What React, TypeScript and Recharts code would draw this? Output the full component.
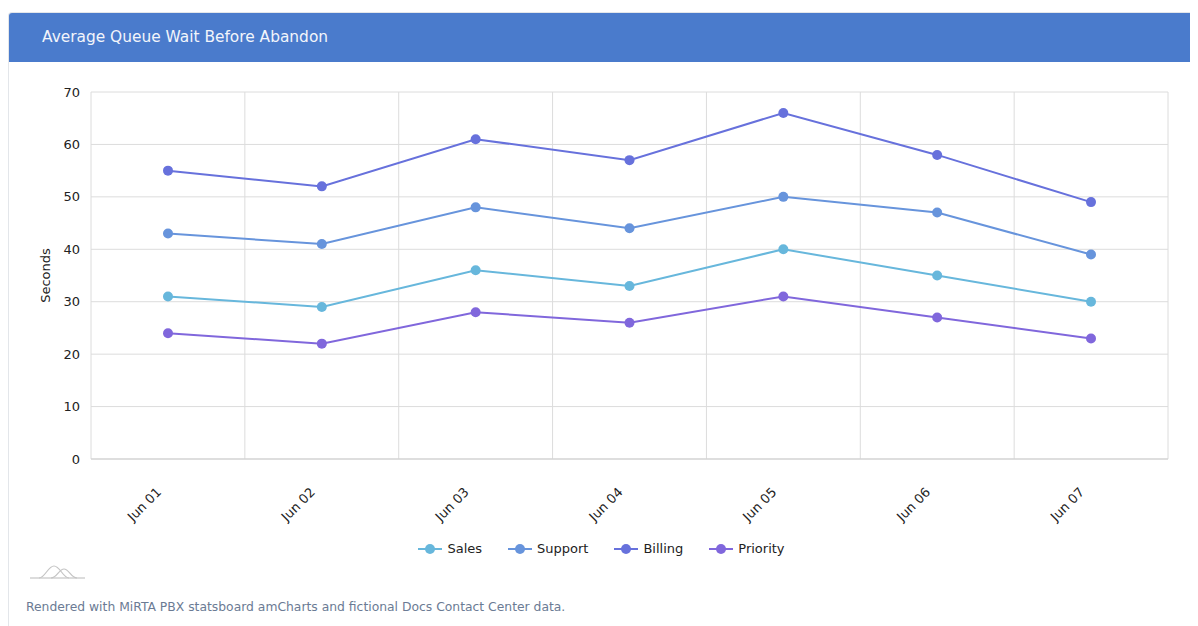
import React from 'react';
import {
  LineChart,
  Line,
  XAxis,
  YAxis,
  CartesianGrid,
  Legend
} from 'recharts';

const days = ['Jun 01', 'Jun 02', 'Jun 03', 'Jun 04', 'Jun 05', 'Jun 06', 'Jun 07'];
const sales = [31, 29, 36, 33, 40, 35, 30];
const support = [43, 41, 48, 44, 50, 47, 39];
const billing = [55, 52, 61, 57, 66, 58, 49];
const priority = [24, 22, 28, 26, 31, 27, 23];
const yTicks = [0, 10, 20, 30, 40, 50, 60, 70];

const seriesDefs = [
  { key: 'Sales', color: '#67b7dc' },
  { key: 'Support', color: '#6794dc' },
  { key: 'Billing', color: '#6771dc' },
  { key: 'Priority', color: '#8067dc' }
];

const data = days.map((day, i) => ({
  day,
  Sales: sales[i],
  Support: support[i],
  Billing: billing[i],
  Priority: priority[i]
}));

const FONT = '"DejaVu Sans", sans-serif';
// half of one category band, so points sit in the middle of each cell
const HALF_BAND = 77;

function DayTick(props: any) {
  const { x, y, payload } = props;
  const ax = x - 6;
  const ay = y + 26;
  return (
    <text
      x={ax}
      y={ay}
      transform={`rotate(-45, ${ax}, ${ay})`}
      textAnchor="end"
      fontSize={13}
      fill="#222"
      fontFamily={FONT}
    >
      {payload.value}
    </text>
  );
}

function LegendContent() {
  return (
    <div style={{ display: 'flex', justifyContent: 'center', paddingLeft: 26, paddingTop: 7, fontFamily: FONT, fontSize: 13, color: '#222' }}>
      {seriesDefs.map((s, i) => (
        <div key={s.key} style={{ display: 'flex', alignItems: 'center', marginLeft: i === 0 ? 0 : 26 }}>
          <svg width={24} height={12} style={{ marginRight: 5 }}>
            <line x1={0} y1={6} x2={24} y2={6} stroke={s.color} strokeWidth={2} />
            <circle cx={12} cy={6} r={5} fill={s.color} />
          </svg>
          <span>{s.key}</span>
        </div>
      ))}
    </div>
  );
}

function AmLogo() {
  return (
    <svg width={60} height={16} style={{ position: 'absolute', left: 21, top: 551 }}>
      <line x1={0} y1={14} x2={55} y2={14} stroke="#d0d0d0" strokeWidth={1.3} />
      <path d="M9,14 C15,14 18,2 24,2 C30,2 33,14 39,14" fill="none" stroke="#c4c4c4" strokeWidth={1.2} />
      <path d="M21,14 C27,14 29,5 34,5 C39,5 41,14 47,14" fill="none" stroke="#c4c4c4" strokeWidth={1.2} />
    </svg>
  );
}

export default function App() {
  return (
    <div style={{ position: 'relative', marginTop: 4, width: 1190, border: '1px solid #e3e6ea', borderRight: 'none', borderTopLeftRadius: 4, background: '#fff', fontFamily: FONT }}>
      <div style={{ height: 49, background: '#4a7bcc', color: '#f2f5fb', fontSize: 15.4, lineHeight: '48px', paddingLeft: 33, borderTopLeftRadius: 3 }}>
        Average Queue Wait Before Abandon
      </div>
      <LineChart width={1189} height={507} data={data} margin={{ top: 30, right: 30, left: 0, bottom: 0 }}>
        <CartesianGrid
          stroke="#dcdcdc"
          verticalCoordinatesGenerator={({ offset }: any) =>
            days.map((_, i) => offset.left + (i * offset.width) / days.length).concat(offset.left + offset.width)
          }
        />
        <XAxis
          dataKey="day"
          interval={0}
          height={75}
          padding={{ left: HALF_BAND, right: HALF_BAND }}
          tickLine={false}
          axisLine={{ stroke: '#cfcfcf' }}
          tick={<DayTick />}
        />
        <YAxis
          width={82}
          domain={[0, 70]}
          ticks={yTicks}
          tickLine={false}
          tickMargin={5}
          axisLine={false}
          tick={{ fontSize: 13, fill: '#222', fontFamily: FONT }}
          label={{ value: 'Seconds', angle: -90, position: 'insideLeft', offset: 36, style: { fontSize: 13, fill: '#222', fontFamily: FONT, textAnchor: 'middle' } }}
        />
        <Legend verticalAlign="bottom" height={35} content={<LegendContent />} />
        {seriesDefs.map((s) => (
          <Line
            key={s.key}
            dataKey={s.key}
            stroke={s.color}
            strokeWidth={2}
            dot={{ r: 5, fill: s.color, stroke: s.color, strokeWidth: 0 }}
            activeDot={false}
            isAnimationActive={false}
          />
        ))}
      </LineChart>
      <AmLogo />
      <div style={{ fontSize: 12.35, color: '#6b7b94', paddingLeft: 17, marginTop: 31, paddingBottom: 30 }}>
        Rendered with MiRTA PBX statsboard amCharts and fictional Docs Contact Center data.
      </div>
    </div>
  );
}
